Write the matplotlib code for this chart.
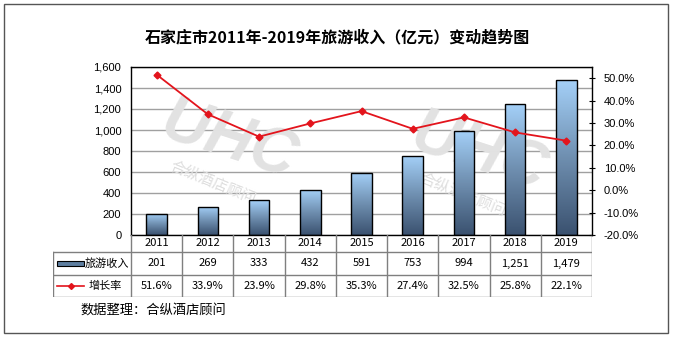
import matplotlib.pyplot as plt
import matplotlib.ticker as mticker
import numpy as np
from matplotlib.patches import Rectangle
from matplotlib.colors import LinearSegmentedColormap

plt.rcParams['font.family'] = ['Liberation Sans', 'Noto Sans CJK SC', 'DejaVu Sans']
cjk = ['Noto Sans CJK SC', 'DejaVu Sans']

years = ['2011', '2012', '2013', '2014', '2015', '2016', '2017', '2018', '2019']
income = [201, 269, 333, 432, 591, 753, 994, 1251, 1479]
growth = [51.6, 33.9, 23.9, 29.8, 35.3, 27.4, 32.5, 25.8, 22.1]
income_labels = ['201', '269', '333', '432', '591', '753', '994', '1,251', '1,479']
growth_labels = ['51.6%', '33.9%', '23.9%', '29.8%', '35.3%', '27.4%', '32.5%', '25.8%', '22.1%']

W, H = 674, 338
fig = plt.figure(figsize=(W / 100, H / 100), dpi=100)

def fx(px):
    return px / W

def fy(py):
    return 1 - py / H

# outer frame
fig.patches.append(Rectangle((fx(4), fy(333)), fx(664), (333 - 4) / H,
                             transform=fig.transFigure, fill=False,
                             edgecolor='#555555', lw=1.0))

fig.text(0.5, fy(37), '石家庄市2011年-2019年旅游收入（亿元）变动趋势图',
         ha='center', va='center', fontsize=11.5, fontweight='bold', family=cjk)

# main plot area
L, R, T, B = 131, 592, 67, 235
ax = fig.add_axes([fx(L), fy(B), fx(R - L), (B - T) / H])
x = np.arange(len(years))
ax.set_xlim(-0.5, len(years) - 0.5)
ax.set_ylim(0, 1600)
ax.yaxis.set_major_locator(mticker.MultipleLocator(200))
ax.yaxis.set_major_formatter(mticker.FuncFormatter(lambda v, p: f'{int(v):,}'))
ax.set_xticks([])
ax.grid(axis='y', color='#a0a0a0', lw=1.0)
ax.set_axisbelow(True)
ax.tick_params(axis='y', length=0, labelsize=8, pad=7)
for s in ax.spines.values():
    s.set_color('black')
    s.set_linewidth(1.0)

# watermark (behind bars)
for (wx, wy) in [(228, 148), (478, 160)]:
    ax.text(fx(wx), fy(wy - 6), 'UHC', fontsize=46, fontweight='heavy', style='italic',
            color='#e2e2e2', rotation=-18, ha='center', va='center',
            transform=fig.transFigure, zorder=1.5)
    ax.text(fx(wx - 15), fy(wy + 35), '合纵酒店顾问', fontsize=11, color='#dedede',
            rotation=-22, ha='center', va='center', family=cjk,
            transform=fig.transFigure, zorder=1.5)

cmap = LinearSegmentedColormap.from_list('bar', ['#3b5270', '#6f8fb0', '#a4d0f8'])
grad = np.linspace(0, 1, 100).reshape(-1, 1)
bw = 0.4
bars = ax.bar(x, income, width=bw, facecolor='none', edgecolor='black', lw=1.0, zorder=3)
for b in bars:
    im = ax.imshow(grad, cmap=cmap, origin='lower', aspect='auto', zorder=2,
                   extent=[b.get_x(), b.get_x() + bw, 0, b.get_height()])
    im.set_clip_path(b)

ax2 = ax.twinx()
ax2.set_ylim(-20, 55)
ax2.set_yticks(np.arange(-20, 51, 10))
ax2.yaxis.set_major_formatter(mticker.FuncFormatter(lambda v, p: f'{v:.1f}%'))
ax2.tick_params(axis='y', direction='inout', length=5, labelsize=8, pad=6, color='black')
for s in ax2.spines.values():
    s.set_visible(False)
ax2.plot(x, growth, color='#e3141c', lw=1.3, marker='D', markersize=3.5, zorder=5)

# data table
TL, TB = 53, 297
tax = fig.add_axes([fx(TL), fy(TB), fx(R - TL), (TB - B) / H])
cw = (R - L) / len(years)
hw = (L - TL) / cw
tax.set_xlim(-0.5 - hw, len(years) - 0.5)
tax.set_ylim(TB, B)
tax.axis('off')
lc = '#7f7f7f'
rows = [B, 252, 275, TB]
for yy in rows[1:]:
    tax.plot([-0.5 - hw, len(years) - 0.5], [yy, yy], color=lc, lw=1)
tax.plot([-0.5 - hw, -0.5 - hw], [252, TB], color=lc, lw=1)
for i in range(len(years) + 1):
    tax.plot([i - 0.5, i - 0.5], [B, TB], color=lc, lw=1)
for i in range(len(years)):
    tax.text(i, (rows[0] + rows[1]) / 2, years[i], ha='center', va='center', fontsize=8, family=cjk)
    tax.text(i, (rows[1] + rows[2]) / 2, income_labels[i], ha='center', va='center', fontsize=8, family=cjk)
    tax.text(i, (rows[2] + rows[3]) / 2, growth_labels[i], ha='center', va='center', fontsize=8, family=cjk)

# legend keys
k0 = -0.5 - hw + 4 / cw
k1 = -0.5 - hw + 31 / cw
key = Rectangle((k0, 261), k1 - k0, 5, facecolor='#5e7ea0', edgecolor='black', lw=0.8)
tax.add_patch(key)
tax.plot([k0, k1], [286, 286], color='#e3141c', lw=1.2)
tax.plot([(k0 + k1) / 2], [286], marker='D', markersize=3, color='#e3141c')
tax.text(k1 + 1 / cw, (rows[1] + rows[2]) / 2, '旅游收入', ha='left', va='center', fontsize=8, family=cjk)
tax.text(k1 + 5 / cw, (rows[2] + rows[3]) / 2, '增长率', ha='left', va='center', fontsize=8, family=cjk)

fig.text(fx(80), fy(310), '数据整理：合纵酒店顾问', ha='left', va='center', fontsize=9.5, family=cjk)

fig.savefig('out.png', dpi=100)
